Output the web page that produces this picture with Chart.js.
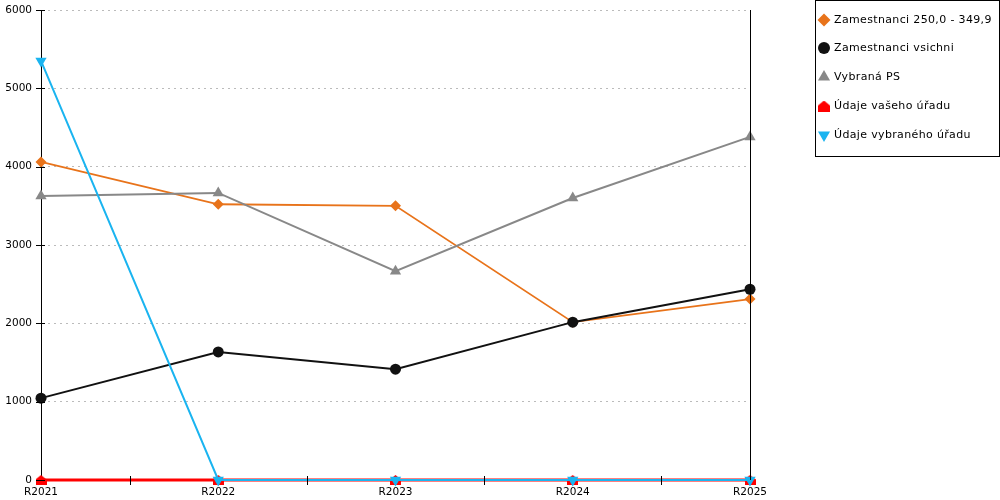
<!DOCTYPE html>
<html>
<head>
<meta charset="utf-8">
<script src="https://cdn.jsdelivr.net/npm/chart.js@4"></script>
<style>
html,body{margin:0;padding:0;background:#fff;}
#wrap{position:relative;width:1000px;height:500px;}
</style>
</head>
<body>
<div id="wrap"><canvas id="c" width="1000" height="500"></canvas></div>
<script>
const categories = ["R2021", "R2022", "R2023", "R2024", "R2025"];
const seriesNames = ["Zamestnanci 250,0 - 349,9", "Zamestnanci vsichni", "Vybraná PS", "Údaje vašeho úřadu", "Údaje vybraného úřadu"];
const zam250 = [4060, 3520, 3500, 2015, 2310];
const zamAll = [1045, 1635, 1415, 2015, 2435];
const vybranaPS = [3625, 3665, 2665, 3600, 4380];
const vasUrad = [0, 0, 0, 0, 0];
const vybranyUrad = [5350, 0, 0, 0, 0];
const yTicks = [0, 1000, 2000, 3000, 4000, 5000, 6000];

const FONT = "DejaVu Sans";

// house-shaped marker for "Údaje vašeho úřadu"
function houseMarker(w, h, color) {
  const c = document.createElement('canvas');
  c.width = w; c.height = h;
  const g = c.getContext('2d');
  g.fillStyle = color;
  g.beginPath();
  g.moveTo(w / 2, 0);
  g.lineTo(w, h * 0.45);
  g.lineTo(w, h);
  g.lineTo(0, h);
  g.lineTo(0, h * 0.45);
  g.closePath();
  g.fill();
  return c;
}
const house = houseMarker(11, 10, '#ff0000');
const houseLegend = houseMarker(12, 11, '#ff0000');

const colors = ['#e8731a', '#111111', '#888888', '#ff0000', '#1ab4f0'];
const styles = ['rectRot', 'circle', 'triangle', house, 'triangle'];
const rotations = [0, 0, 0, 0, 180];
const radii = [5.5, 5.5, 6.5, 6, 6.5];
const widths = [1.8, 2, 2, 3, 2];
const dataArr = [zam250, zamAll, vybranaPS, vasUrad, vybranyUrad];

const datasets = dataArr.map((d, i) => ({
  label: seriesNames[i],
  data: d,
  borderColor: colors[i],
  backgroundColor: colors[i],
  pointBackgroundColor: colors[i],
  pointBorderColor: colors[i],
  pointBorderWidth: 0,
  borderWidth: widths[i],
  pointStyle: styles[i],
  pointRotation: rotations[i],
  pointRadius: radii[i],
  tension: 0,
  clip: false,
  order: 4 - i
}));

const extras = {
  id: 'extras',
  afterDraw(chart) {
    const ctx = chart.ctx;
    const a = chart.chartArea;
    const xs = chart.scales.x, ys = chart.scales.y;
    ctx.save();
    ctx.strokeStyle = '#000';
    ctx.lineWidth = 1;
    // right border
    ctx.beginPath();
    ctx.moveTo(Math.round(a.right) + 0.5, a.top);
    ctx.lineTo(Math.round(a.right) + 0.5, a.bottom);
    ctx.stroke();
    // y ticks crossing axis
    yTicks.forEach(v => {
      const y = Math.round(ys.getPixelForValue(v)) + 0.5;
      ctx.beginPath();
      ctx.moveTo(a.left - 5, y);
      ctx.lineTo(a.left + 4, y);
      ctx.stroke();
    });
    // x ticks between categories
    for (let i = 0; i < categories.length - 1; i++) {
      const x = Math.round((xs.getPixelForValue(i) + xs.getPixelForValue(i + 1)) / 2) + 0.5;
      ctx.beginPath();
      ctx.moveTo(x, a.bottom - 4);
      ctx.lineTo(x, a.bottom + 5);
      ctx.stroke();
    }
    // legend
    const lx = 815.5, ly = 0.5, lw = 184, lh = 156;
    ctx.fillStyle = '#fff';
    ctx.fillRect(lx, ly, lw, lh);
    ctx.strokeStyle = '#000';
    ctx.strokeRect(lx, ly, lw, lh);
    ctx.font = '11px "' + FONT + '"';
    if ('letterSpacing' in ctx) ctx.letterSpacing = '0.35px';
    ctx.textBaseline = 'middle';
    ctx.textAlign = 'left';
    const legY = [20, 48, 77, 106, 135];
    const legR = [6.5, 6, 7, 6, 7];
    seriesNames.forEach((n, i) => {
      const y = legY[i];
      const ps = i === 3 ? houseLegend : styles[i];
      ctx.fillStyle = colors[i];
      ctx.strokeStyle = colors[i];
      Chart.helpers.drawPoint(ctx, {
        pointStyle: ps, rotation: rotations[i], radius: legR[i], borderWidth: 0
      }, 824, y);
      ctx.fillStyle = '#000';
      ctx.fillText(n, 834, y);
    });
    ctx.restore();
  }
};

new Chart(document.getElementById('c'), {
  type: 'line',
  data: { labels: categories, datasets: datasets },
  options: {
    responsive: false,
    animation: false,
    devicePixelRatio: 1,
    layout: { padding: { left: 0, top: 10, right: 250, bottom: 0 } },
    plugins: { legend: { display: false }, tooltip: { enabled: false } },
    scales: {
      x: {
        type: 'category',
        offset: false,
        afterFit: s => { s.height = 20; s.paddingLeft = 0; s.paddingRight = 0; },
        grid: { display: false, drawTicks: false },
        border: { display: true, color: '#000', width: 1 },
        ticks: { color: '#000', font: { family: FONT, size: 10.5 }, padding: 6, maxRotation: 0, autoSkip: false }
      },
      y: {
        min: 0, max: 6000,
        afterFit: s => { s.width = 41; s.paddingTop = 0; s.paddingBottom = 0; },
        afterBuildTicks: s => { s.ticks = yTicks.map(v => ({ value: v })); },
        grid: { color: '#bbbbbb', drawTicks: false, lineWidth: 1 },
        border: { display: true, color: '#000', width: 1, dash: [2, 4] },
        ticks: { color: '#000', font: { family: FONT, size: 10.5 }, padding: 9, callback: v => String(v) }
      }
    }
  },
  plugins: [extras]
});
</script>
</body>
</html>
